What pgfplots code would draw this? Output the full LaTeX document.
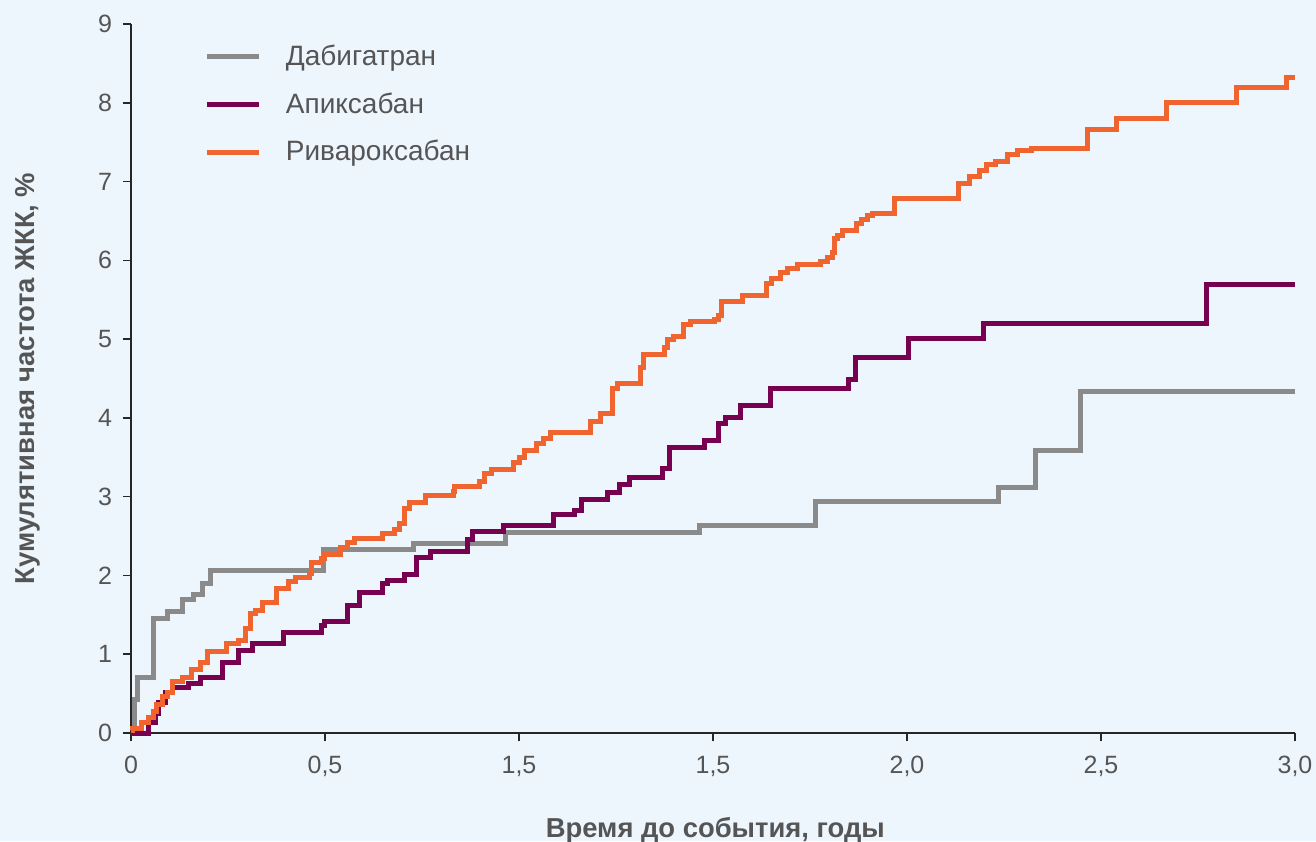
\documentclass[border=0pt]{standalone}
\usepackage{pgfplots}
\pgfplotsset{compat=1.18}
\usepackage{fontspec}
\setmainfont{Liberation Sans}
\definecolor{bgc}{HTML}{EEF6FD}
\definecolor{txt}{HTML}{555555}
\definecolor{cgray}{HTML}{8A8A8A}
\definecolor{cpurple}{HTML}{780050}
\definecolor{corange}{HTML}{F06430}
\begin{document}
\begin{tikzpicture}
\fill[bgc] (-65.5pt,-54pt) rectangle (592.5pt,366.5pt);
\begin{axis}[
  at={(0,0)}, anchor=south west,
  scale only axis, width=582pt, height=354.5pt,
  xmin=0, xmax=3, ymin=0, ymax=9,
  axis lines=left,
  axis line style={-, draw=black!85, line width=1pt},
  tick align=outside, major tick length=4pt,
  tick style={black!85, line width=0.8pt},
  xtick={0,0.5,1,1.5,2,2.5,3},
  xticklabels={0,{0,5},{1,5},{1,5},{2,0},{2,5},{3,0}},
  ytick={0,1,...,9},
  /pgf/number format/assume math mode=true,
  ticklabel style={font=\fontsize{12.5}{14}\selectfont, text=txt},
  xticklabel style={yshift=-4pt},
  yticklabel style={xshift=-2pt},
  xlabel={Время до события, годы},
  ylabel={Кумулятивная частота ЖКК, \%},
  every axis x label/.style={at={(axis description cs:0.502,-0.137)}, anchor=center, font=\fontsize{13.7}{15}\selectfont\bfseries, text=txt},
  every axis y label/.style={at={(axis description cs:-0.0885,0.5)}, rotate=90, anchor=center, font=\fontsize{13.7}{15}\selectfont\bfseries, text=txt},
  legend style={at={(axis description cs:0.058,0.982)}, anchor=north west, draw=none, fill=none,
    font=\fontsize{14}{16}\selectfont, text=txt, row sep=8pt, column sep=0pt},
  legend cell align=left,
  legend image code/.code={\draw[#1, line width=2.5pt] (0pt,0pt) -- (26pt,0pt); \path (36pt,0pt);},
  every axis plot/.append style={line width=2.5pt, const plot},
  clip=false,
]
\addplot[cgray] coordinates {
(0,0)(0.010,0.42)(0.018,0.70)(0.057,1.45)(0.093,1.54)(0.134,1.69)(0.160,1.76)(0.183,1.90)(0.206,2.06)(0.495,2.33)(0.727,2.40)(0.966,2.54)(1.466,2.64)(1.763,2.94)(2.237,3.12)(2.332,3.58)(2.448,4.34)(3.0,4.34)
};
\addlegendentry{Дабигатран}
\addplot[cpurple] coordinates {
(0,0)(0.046,0.13)(0.062,0.25)(0.072,0.39)(0.088,0.51)(0.108,0.58)(0.147,0.63)(0.178,0.71)(0.237,0.90)(0.276,1.05)(0.312,1.14)(0.392,1.27)(0.490,1.37)(0.500,1.42)(0.557,1.62)(0.590,1.78)(0.647,1.90)(0.662,1.94)(0.706,2.01)(0.737,2.23)(0.773,2.31)(0.866,2.46)(0.879,2.56)(0.959,2.63)(1.088,2.78)(1.144,2.83)(1.162,2.97)(1.229,3.05)(1.260,3.16)(1.286,3.24)(1.369,3.36)(1.389,3.63)(1.479,3.71)(1.513,3.93)(1.531,4.01)(1.570,4.16)(1.647,4.37)(1.848,4.49)(1.866,4.77)(2.003,5.01)(2.198,5.20)(2.773,5.69)(3.0,5.69)
};
\addlegendentry{Апиксабан}
\addplot[corange] coordinates {
(0,0.03)(0.005,0.06)(0.026,0.13)(0.044,0.20)(0.057,0.27)(0.067,0.36)(0.082,0.46)(0.093,0.52)(0.106,0.65)(0.134,0.70)(0.157,0.80)(0.178,0.89)(0.198,1.03)(0.247,1.14)(0.276,1.18)(0.294,1.33)(0.307,1.52)(0.320,1.56)(0.340,1.66)(0.376,1.84)(0.407,1.92)(0.423,1.97)(0.461,2.03)(0.466,2.16)(0.490,2.22)(0.500,2.26)(0.539,2.35)(0.557,2.42)(0.577,2.47)(0.649,2.53)(0.680,2.58)(0.693,2.66)(0.706,2.85)(0.719,2.92)(0.758,3.02)(0.830,3.06)(0.835,3.13)(0.899,3.19)(0.912,3.29)(0.930,3.34)(0.985,3.43)(1.000,3.50)(1.015,3.59)(1.046,3.68)(1.064,3.74)(1.080,3.81)(1.183,3.95)(1.211,4.06)(1.240,4.37)(1.253,4.44)(1.314,4.64)(1.322,4.81)(1.376,4.90)(1.384,4.99)(1.397,5.03)(1.425,5.18)(1.441,5.23)(1.505,5.25)(1.513,5.30)(1.523,5.48)(1.575,5.56)(1.639,5.71)(1.652,5.77)(1.673,5.84)(1.691,5.90)(1.719,5.95)(1.776,5.98)(1.794,6.04)(1.807,6.10)(1.814,6.28)(1.822,6.32)(1.835,6.38)(1.869,6.47)(1.884,6.52)(1.897,6.57)(1.912,6.60)(1.969,6.78)(2.134,6.98)(2.162,7.06)(2.188,7.14)(2.206,7.22)(2.227,7.25)(2.258,7.34)(2.284,7.39)(2.322,7.42)(2.466,7.66)(2.541,7.80)(2.668,8.01)(2.848,8.20)(2.979,8.32)(3.0,8.32)
};
\addlegendentry{Ривароксабан}
\end{axis}
\pgfresetboundingbox
\path (-65.5pt,-54pt) rectangle (592.5pt,366.5pt);
\end{tikzpicture}
\end{document}
